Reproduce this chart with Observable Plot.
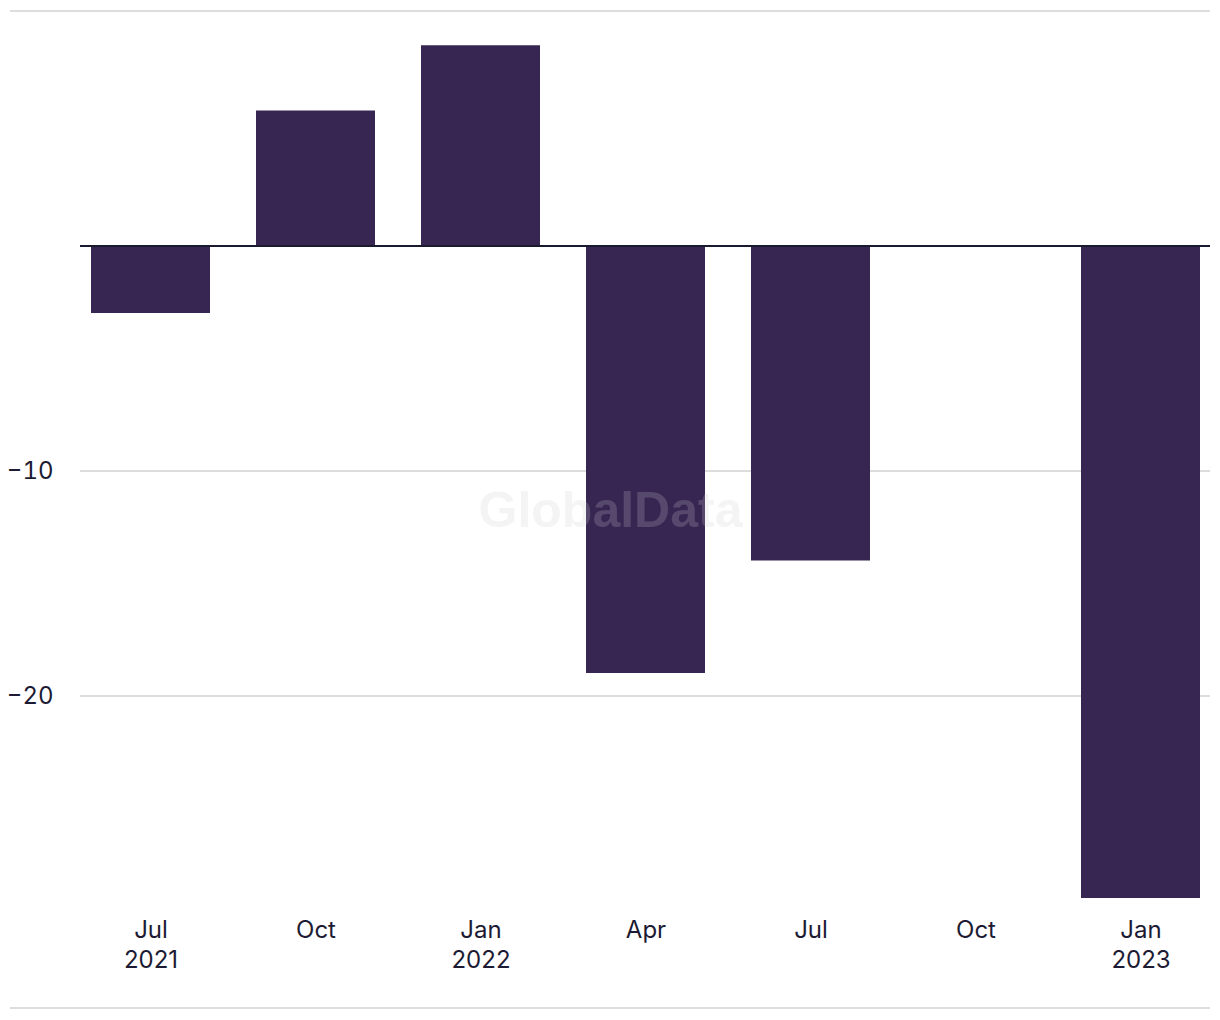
<!DOCTYPE html>
<html>
<head>
<meta charset="utf-8">
<script src="https://cdn.jsdelivr.net/npm/d3@7"></script>
<script src="https://cdn.jsdelivr.net/npm/@observablehq/plot@0.6"></script>
<style>
  html, body { margin: 0; padding: 0; background: #fff; }
  #wrap { position: relative; width: 1220px; height: 1020px; }
  .rule { position: absolute; left: 10px; width: 1200px; height: 2px; background: #dddddd; }
  #chart { position: absolute; left: 0; top: 0; }
</style>
</head>
<body>
<div id="wrap">
  <div class="rule" style="top:10px"></div>
  <div class="rule" style="top:1007px"></div>
  <div id="chart"></div>
</div>
<script>
const quarters = ["2021-07", "2021-10", "2022-01", "2022-04", "2022-07", "2022-10", "2023-01"];
const monthLabels = ["Jul", "Oct", "Jan", "Apr", "Jul", "Oct", "Jan"];
const yearLabels = ["2021", "", "2022", "", "", "", "2023"];
const values = [-3.0, 6.0, 8.9, -19.0, -14.0, 0, -29.0];
const yTicks = [-10, -20];
const watermark = "GlobalData";

const data = quarters.map((q, i) => ({q, value: values[i]}));
const labelOf = new Map(quarters.map((q, i) => [q, yearLabels[i] ? monthLabels[i] + "\n" + yearLabels[i] : monthLabels[i]]));

const chart = Plot.plot({
  width: 1220,
  height: 1020,
  marginLeft: 80,
  marginRight: 10,
  marginTop: 43,
  marginBottom: 122,
  style: {fontFamily: "Inter, 'Noto Sans', sans-serif", color: "#1c1b33", background: "transparent"},
  x: {type: "band", domain: quarters, paddingInner: 0.28, paddingOuter: 0.064, label: null},
  y: {domain: [-29, 9], label: null},
  marks: [
    Plot.gridY(yTicks, {stroke: "#dcdcdc", strokeOpacity: 1, strokeWidth: 2}),
    Plot.barY(data, {x: "q", y: "value", fill: "#372552"}),
    Plot.ruleY([0], {stroke: "#1a1a2e", strokeWidth: 2}),
    Plot.axisY({ticks: yTicks, tickSize: 0, tickPadding: 27, fontSize: 24, label: null, tickFormat: d => "\u2212" + Math.abs(d)}),
    Plot.axisX({tickSize: 0, tickPadding: 18, fontSize: 24, lineHeight: 1.25, label: null, tickFormat: d => labelOf.get(d)}),
    Plot.text([watermark], {text: d => d, frameAnchor: "middle", dx: -35, dy: 40, fontSize: 50, fontWeight: "bold", fontFamily: "'Liberation Sans', Arial, sans-serif", fill: "#cccccc", fillOpacity: 0.22})
  ]
});
document.getElementById("chart").appendChild(chart);
</script>
</body>
</html>
